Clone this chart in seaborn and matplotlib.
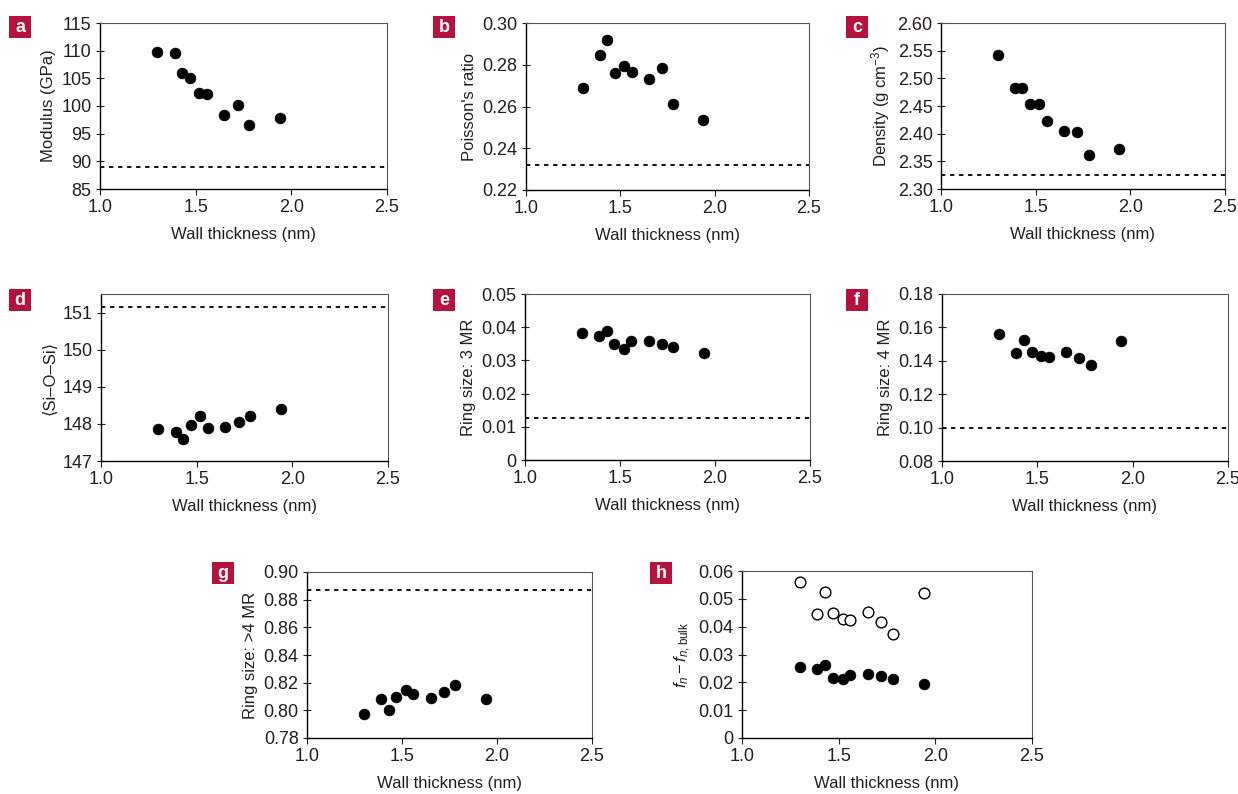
"""
Silica wall-thickness panels (a-h): structural properties vs wall thickness
"""

import numpy as np
import pandas as pd
import matplotlib
matplotlib.use("Agg")
import matplotlib.pyplot as plt
from matplotlib import font_manager
from matplotlib.patches import Rectangle
from matplotlib.ticker import FuncFormatter
import seaborn as sns

# wall thickness shared by all panels (nm)
wall_thickness = [1.30, 1.39, 1.43, 1.47, 1.52, 1.56, 1.65, 1.72, 1.78, 1.94]

modulus = [109.7, 109.5, 105.9, 105.0, 102.4, 102.1, 98.4, 100.1, 96.5, 97.9]
poisson = [0.269, 0.2845, 0.292, 0.276, 0.2795, 0.2765, 0.273, 0.2785, 0.261, 0.2535]
density = [2.543, 2.483, 2.482, 2.454, 2.454, 2.422, 2.405, 2.403, 2.362, 2.373]
si_o_si = [147.86, 147.79, 147.60, 147.97, 148.20, 147.89, 147.92, 148.05, 148.20, 148.40]
ring_3mr = [0.0382, 0.0375, 0.0390, 0.0348, 0.0335, 0.0357, 0.0357, 0.0348, 0.0339, 0.0323]
ring_4mr = [0.1558, 0.1448, 0.1526, 0.1452, 0.1428, 0.1422, 0.1452, 0.1416, 0.1372, 0.1520]
ring_gt4 = [0.797, 0.808, 0.800, 0.810, 0.8145, 0.812, 0.809, 0.8135, 0.8185, 0.808]
fn_open = [0.0559, 0.0446, 0.0526, 0.0449, 0.0426, 0.0423, 0.0453, 0.0416, 0.0374, 0.0522]
fn_filled = [0.0254, 0.0248, 0.0263, 0.0217, 0.0211, 0.0228, 0.0229, 0.0222, 0.0211, 0.0194]

# bulk reference values (dashed lines)
bulk_values = [88.9, 0.232, 2.325, 151.16, 0.0128, 0.100, 0.887]

panel_letters = ["a", "b", "c", "d", "e", "f", "g", "h"]
y_labels = ["Modulus (GPa)", "Poisson's ratio", r"Density (g cm$^{-3}$)",
            "\u27e8Si\u2013O\u2013Si\u27e9", "Ring size: 3 MR", "Ring size: 4 MR",
            "Ring size: >4 MR", r"$\mathit{f}_{\mathit{n}}-\mathit{f}_{\mathit{n},\mathrm{bulk}}$"]
y_limits = [(85, 115), (0.22, 0.30), (2.30, 2.60), (147, 151.5), (0, 0.05),
            (0.08, 0.18), (0.78, 0.90), (0, 0.06)]
y_ticks = [np.arange(85, 116, 5), np.arange(0.22, 0.301, 0.02), np.arange(2.30, 2.601, 0.05),
           np.arange(147, 152, 1), np.arange(0, 0.051, 0.01), np.arange(0.08, 0.181, 0.02),
           np.arange(0.78, 0.901, 0.02), np.arange(0, 0.061, 0.01)]
y_fmt = ["{:.0f}", "{:.2f}", "{:.2f}", "{:.0f}", "{:.2f}", "{:.2f}", "{:.2f}", "{:.2f}"]

sns.set_theme(style="ticks")
available = {f.name for f in font_manager.fontManager.ttflist}
main_font = "Liberation Sans Narrow" if "Liberation Sans Narrow" in available else "Liberation Sans"
plt.rcParams["font.family"] = [main_font, "DejaVu Sans"]
plt.rcParams["mathtext.fontset"] = "custom"
plt.rcParams["mathtext.rm"] = main_font
plt.rcParams["mathtext.it"] = main_font + ":italic"
plt.rcParams["mathtext.default"] = "regular"

text_color = "#231f20"
label_red = "#b5123e"

fig = plt.figure(figsize=(12.38, 7.94), dpi=100)
W, H = 1238, 794

# axes boxes in pixels: left, top, right, bottom
boxes = [(100, 23, 387, 189), (526, 23, 809, 190), (941, 23, 1225, 189),
         (101, 294, 388, 461), (525, 294, 810, 460), (942, 294, 1228, 461),
         (307, 572, 592, 738), (742, 571, 1032, 738)]
letter_pos = [(9, 16), (433, 16), (846, 16), (9, 289), (433, 289), (846, 289), (212, 562), (650, 562)]

series = [modulus, poisson, density, si_o_si, ring_3mr, ring_4mr, ring_gt4, fn_filled]

for i, (l, t, r, b) in enumerate(boxes):
    ax = fig.add_axes([l / W, 1 - b / H, (r - l) / W, (b - t) / H])
    df = pd.DataFrame({"x": wall_thickness, "y": series[i]})
    if i == 7:
        sns.scatterplot(data=pd.DataFrame({"x": wall_thickness, "y": fn_open}), x="x", y="y",
                        ax=ax, color="white", edgecolor="black", linewidth=1.0, s=60, zorder=3)
    sns.scatterplot(data=df, x="x", y="y", ax=ax, color="black", edgecolor="black",
                    linewidth=0.5, s=60, zorder=3)
    if i < 7:
        ax.axhline(bulk_values[i], color="black", lw=1.3, ls=(0, (2.4, 2.6)), zorder=2)

    ax.set_xlim(1.0, 2.5)
    ax.set_xticks([1.0, 1.5, 2.0, 2.5])
    ax.xaxis.set_major_formatter(FuncFormatter(lambda v, p: f"{v:.1f}"))
    ax.set_ylim(*y_limits[i])
    ax.set_yticks(y_ticks[i])
    fmt = y_fmt[i]
    ax.yaxis.set_major_formatter(FuncFormatter(lambda v, p, fmt=fmt: "0" if abs(v) < 1e-9 else fmt.format(v)))

    ax.set_xlabel("Wall thickness (nm)", fontsize=12, color=text_color, labelpad=8)
    ax.set_ylabel(y_labels[i], fontsize=12, color=text_color, labelpad=4)
    ax.tick_params(axis="both", labelsize=13, colors=text_color, length=4, width=0.8, direction="out", pad=3)
    ax.tick_params(axis="y", direction="inout", length=6)
    for side in ["left", "bottom"]:
        ax.spines[side].set_color("black")
        ax.spines[side].set_linewidth(1.0)
    for side in ["top", "right"]:
        ax.spines[side].set_visible(True)
        ax.spines[side].set_color("#555555")
        ax.spines[side].set_linewidth(0.8)

    # red square panel letter
    lx, ly = letter_pos[i]
    fig.add_artist(Rectangle((lx / W, 1 - (ly + 22) / H), 22 / W, 22 / H,
                             transform=fig.transFigure, fc=label_red, ec="none"))
    fig.text((lx + 11) / W, 1 - (ly + 11.5) / H, panel_letters[i], color="white", fontsize=13,
             fontweight="bold", ha="center", va="center", family=["Liberation Sans", "DejaVu Sans"])

fig.savefig("out.png", dpi=100)
